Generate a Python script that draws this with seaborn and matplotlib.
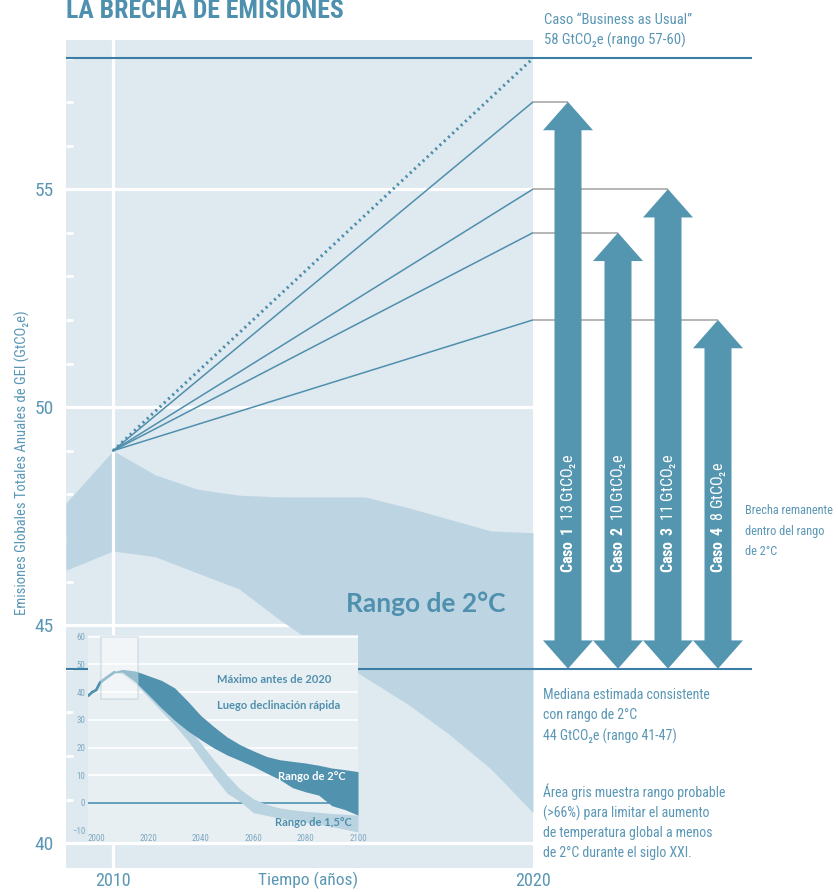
import matplotlib
matplotlib.use("Agg")
import matplotlib.pyplot as plt
from matplotlib import font_manager
from matplotlib.patches import Polygon, Rectangle
import seaborn as sns

# ---- main chart values (GtCO2e) ----
year_start, year_end = 2010, 2020
peak_2010 = 49
bau_2020 = 58
scenario_2020 = [57, 55, 54, 52]
median_2c = 44

band_years = [2008.88, 2010, 2011, 2012, 2013, 2014, 2015, 2016, 2017, 2018, 2019, 2020]
band_upper = [47.8, 49.0, 48.45, 48.12, 47.98, 47.94, 47.94, 47.94, 47.7, 47.43, 47.16, 47.12]
band_lower = [46.26, 46.7, 46.57, 46.2, 45.83, 45.1, 44.45, 43.8, 43.2, 42.5, 41.7, 40.7]

# ---- gap arrows ----
case_names = ["Caso 1", "Caso 2", "Caso 3", "Caso 4"]
case_tops = [57, 54, 55, 52]
case_gaps = [13, 10, 11, 8]

# ---- inset: long term pathways ----
hist_years = [1997, 1998.5, 2000, 2001.5, 2004, 2007]
hist_values = [38.7, 40.0, 40.7, 43.4, 45.2, 47.2]
path_years = [2007, 2010, 2015, 2020, 2025, 2030, 2035, 2040, 2045, 2050,
              2055, 2060, 2065, 2070, 2075, 2080, 2085, 2090, 2095, 2100]
r2_upper = [47.5, 48.2, 47.6, 45.9, 44.2, 41.5, 36.7, 31.5, 27.5, 23.8,
            21.0, 18.8, 16.8, 15.6, 15.0, 14.4, 13.6, 12.6, 12.0, 11.3]
r2_lower = [47.0, 47.2, 43.7, 39.0, 34.2, 29.8, 26.0, 22.8, 19.8, 17.3,
            15.3, 13.2, 10.8, 8.5, 5.5, 4.0, 2.8, -1.0, -2.4, -4.4]
r15_upper = [47.3, 47.6, 45.0, 41.0, 37.0, 32.5, 27.5, 21.5, 15.5, 10.0,
             5.0, 1.5, -0.5, -1.8, -2.5, -3.0, -3.4, -3.8, -4.1, -4.4]
r15_lower = [46.9, 46.6, 43.0, 38.0, 33.0, 28.0, 22.5, 16.0, 9.5, 3.5,
             0.5, -3.5, -4.5, -5.5, -6.2, -7.0, -7.7, -8.5, -9.5, -10.5]
inset_xticks = [2000, 2020, 2040, 2060, 2080, 2100]
inset_yticks = [-10, 0, 10, 20, 30, 40, 50, 60]

# colours
TITLE = "#4e90ae"
TEXT = "#5a97b5"
PANEL = "#dfe9f0"
BAND = "#bdd5e2"
LINE = "#3a7da5"
FAN = "#4f8fad"
ARROW = "#5495b0"
GREY = "#a9a9a9"
INSET_BG = "#e8eff3"
DARK_BAND = "#5192ae"
LIGHT_BAND = "#bad3e0"
TICK = "#7faac1"

W, H = 838, 892


def box(x0, y0, x1, y1):
    # pixel box -> figure fraction [left, bottom, width, height]
    return [x0 / W, 1 - y1 / H, (x1 - x0) / W, (y1 - y0) / H]


def double_arrow(x, low, high, shaft=0.54, head=1.0, head_len=0.65):
    # outline of a two headed vertical arrow, in data units
    s, h = shaft / 2, head / 2
    return [(x, high), (x + h, high - head_len), (x + s, high - head_len),
            (x + s, low + head_len), (x + h, low + head_len), (x, low),
            (x - h, low + head_len), (x - s, low + head_len),
            (x - s, high - head_len), (x - h, high - head_len)]


sns.set_theme(style="white")
names = {f.name for f in font_manager.fontManager.ttflist}
NARROW = next((n for n in ["Liberation Sans Narrow", "DejaVu Sans Condensed",
                           "Roboto Condensed"] if n in names), "DejaVu Sans")
BOLD = "Lato" if "Lato" in names else "DejaVu Sans"
plt.rcParams["font.family"] = [NARROW, "DejaVu Sans"]
plt.rcParams["mathtext.fontset"] = "custom"
plt.rcParams["mathtext.rm"] = NARROW
plt.rcParams["mathtext.bf"] = NARROW + ":bold"

fig = plt.figure(figsize=(W / 100, H / 100), dpi=100)

# ---------------- main panel ----------------
ax = fig.add_axes(box(66, 40, 533, 868))
ax.set_facecolor(PANEL)
ax.set_xlim(2008.88, 2020)
ax.set_ylim(39.43, 58.42)

ax.fill_between(band_years, band_lower, band_upper, color=BAND, lw=0, zorder=1)
ax.axvline(year_start, color="white", lw=2.3, zorder=1.5)

for target in scenario_2020:
    sns.lineplot(x=[year_start, year_end], y=[peak_2010, target],
                 color=FAN, lw=1.1, ax=ax, zorder=3)
sns.lineplot(x=[year_start, year_end], y=[peak_2010, bau_2020], color=FAN,
             lw=2.2, linestyle=(0, (0.7, 1.2)), ax=ax, zorder=3)

ax.axhline(bau_2020, color=LINE, lw=1.5, zorder=4)
ax.axhline(median_2c, color=LINE, lw=1.5, zorder=4)

ax.text(2015.55, 45.5, "Rango de 2°C", family=[BOLD, "DejaVu Sans"],
        fontsize=19, fontweight="bold", color=TITLE, ha="left", va="center")

ax.set_yticks([40, 45, 50, 55])
ax.set_yticks(range(41, 59), minor=True)
ax.set_xticks([2010, 2020])
ax.grid(axis="y", which="major", color="white", lw=2.3)
ax.grid(axis="x", visible=False)
ax.set_axisbelow(True)
ax.tick_params(axis="y", which="major", length=0, pad=9, labelsize=14, labelcolor=TEXT)
ax.tick_params(axis="y", which="minor", direction="in", length=5, width=2,
               color="white", left=True)
ax.tick_params(axis="x", length=0, pad=3, labelsize=13, labelcolor=TEXT)
sns.despine(ax=ax, left=True, bottom=True)
ax.set_ylabel("Emisiones Globales Totales Anuales de GEI (GtCO₂e)", fontsize=10.5, color=TEXT)
ax.yaxis.set_label_coords(-0.077, 0.489)
ax.set_xlabel("")
ax.annotate("Tiempo (años)", xy=(2014.65, 0), xycoords=("data", "axes fraction"),
            xytext=(0, -3), textcoords="offset points", ha="center", va="top",
            fontsize=12.5, color=TEXT)

# ---------------- gap arrows ----------------
axr = fig.add_axes(box(533, 40, 752, 868))
axr.set_xlim(-0.7, 3.68)
axr.set_ylim(ax.get_ylim())
axr.axis("off")
axr.axhline(bau_2020, color=LINE, lw=1.5)
axr.axhline(median_2c, color=LINE, lw=1.5)
for i, (name, top, gap) in enumerate(zip(case_names, case_tops, case_gaps)):
    axr.hlines(top, -0.7, i, color=GREY, lw=1.2, zorder=1)
    axr.add_patch(Polygon(double_arrow(i, median_2c, top), closed=True,
                          facecolor=ARROW, edgecolor="none", zorder=2))
    label = "$\\mathbf{" + name.replace(" ", "\\ ") + "}$  " + f"{gap} GtCO₂e"
    axr.text(i, 46.19, label, rotation=90, ha="center", va="bottom",
             fontsize=11.5, color="white", zorder=3)

# ---------------- inset ----------------
axi = fig.add_axes(box(88, 635, 358, 842))
axi.set_facecolor(INSET_BG)
axi.set_xlim(1996.9, 2100)
axi.set_ylim(-14.1, 60.6)
for v in inset_yticks[2:]:
    axi.axhline(v, color="white", lw=1.1, zorder=0.5)
axi.axhline(0, color="#4f93b3", lw=1.2, zorder=0.6)
axi.fill_between(path_years, r15_lower, r15_upper, color=LIGHT_BAND, lw=0, zorder=1)
axi.fill_between(path_years, r2_lower, r2_upper, color=DARK_BAND, lw=0, zorder=2)
sns.lineplot(x=hist_years, y=hist_values, color=DARK_BAND, lw=2, ax=axi, zorder=2)
axi.add_patch(Rectangle((2002, 37.5), 14, 22.5, facecolor="white", alpha=0.4,
                        edgecolor="#a9c4d3", lw=1.2, zorder=3))
axi.set_xticks(inset_xticks)
axi.set_yticks(inset_yticks)
axi.grid(False)
axi.tick_params(axis="x", length=0, pad=-5.5, labelsize=6.5, labelcolor=TICK)
axi.tick_params(axis="y", length=0, pad=2, labelsize=6.5, labelcolor=TICK)
sns.despine(ax=axi, left=True, bottom=True)
axi.set_xlabel("")
axi.set_ylabel("")
bold_kw = dict(family=[BOLD, "DejaVu Sans"], fontweight="bold", fontsize=8,
               ha="left", va="center", zorder=4)
axi.text(2046.2, 44.7, "Máximo antes de 2020", color=FAN, **bold_kw)
axi.text(2046.2, 35.0, "Luego declinación rápida", color=FAN, **bold_kw)
axi.text(2069.5, 9.5, "Rango de 2°C", color="white", **bold_kw)
axi.text(2068.3, -7.1, "Rango de 1,5°C", color=FAN, **bold_kw)

# ---------------- titles and notes ----------------
fig.text(66 / W, 1 - 18 / H, "LA BRECHA DE EMISIONES", fontsize=18.5,
         fontweight="bold", color=TITLE, va="baseline")
note_kw = dict(color=TEXT, ha="left", va="center")
fig.text(544 / W, 1 - 30.5 / H, "Caso “Business as Usual”\n58 GtCO₂e (rango 57-60)",
         fontsize=10.5, linespacing=1.45, **note_kw)
fig.text(745 / W, 1 - 531 / H, "Brecha remanente\ndentro del rango\nde 2°C",
         fontsize=8.8, linespacing=1.75, **note_kw)
fig.text(543 / W, 1 - 716 / H,
         "Mediana estimada consistente\ncon rango de 2°C\n44 GtCO₂e (rango 41-47)",
         fontsize=10, linespacing=1.55, **note_kw)
fig.text(543 / W, 1 - 821.5 / H,
         "Área gris muestra rango probable\n(>66%) para limitar el aumento\n"
         "de temperatura global a menos\nde 2°C durante el siglo XXI.",
         fontsize=10, linespacing=1.5, **note_kw)

fig.savefig("out.png", dpi=100)
